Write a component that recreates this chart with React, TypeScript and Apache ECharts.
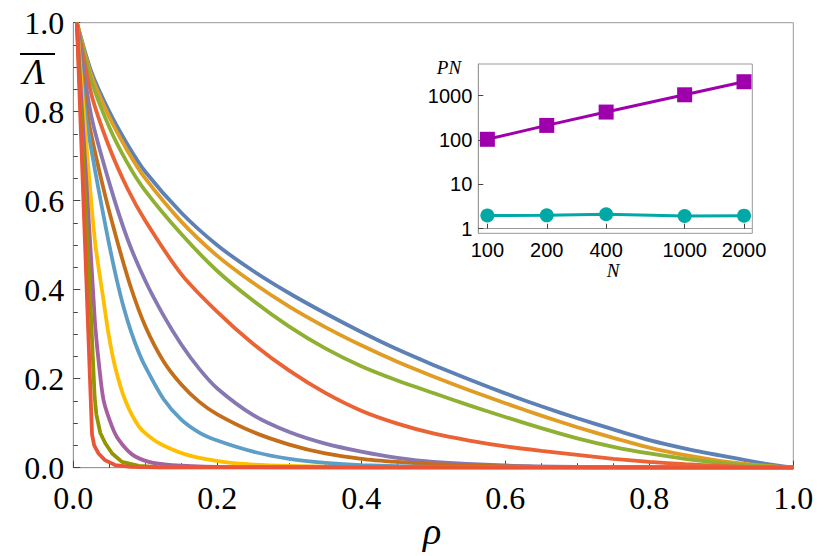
import React, { useEffect, useRef } from 'react';
import * as echarts from 'echarts';

// Main plot: rho grid used by the four broad curves
const rhoGrid = [0.005, 0.025, 0.05, 0.075, 0.1, 0.15, 0.2, 0.25, 0.3, 0.35, 0.4, 0.45, 0.5, 0.55, 0.6, 0.65, 0.7, 0.75, 0.8, 0.85, 0.9, 0.95, 1.0];
const blueVals = [1.0, 0.89, 0.8, 0.727, 0.665, 0.573, 0.5, 0.442, 0.392, 0.347, 0.305, 0.266, 0.231, 0.198, 0.167, 0.138, 0.111, 0.086, 0.062, 0.043, 0.027, 0.012, 0];
const orangeVals = [1.0, 0.882, 0.788, 0.713, 0.65, 0.553, 0.476, 0.415, 0.362, 0.316, 0.275, 0.238, 0.205, 0.174, 0.145, 0.117, 0.091, 0.067, 0.045, 0.028, 0.015, 0.006, 0];
const greenVals = [1.0, 0.87, 0.765, 0.685, 0.622, 0.525, 0.442, 0.375, 0.317, 0.268, 0.228, 0.196, 0.168, 0.14, 0.114, 0.089, 0.066, 0.047, 0.032, 0.02, 0.011, 0.004, 0];
const redOrangeVals = [1.0, 0.84, 0.72, 0.628, 0.555, 0.435, 0.35, 0.278, 0.218, 0.168, 0.128, 0.099, 0.077, 0.061, 0.048, 0.038, 0.029, 0.02, 0.013, 0.008, 0.004, 0.001, 0];

// Steeper curves: [rho, value] pairs
const purplePts = [[0.005, 1], [0.025, 0.79], [0.05, 0.64], [0.075, 0.515], [0.1, 0.42], [0.125, 0.343], [0.15, 0.277], [0.175, 0.222], [0.2, 0.178], [0.25, 0.118], [0.3, 0.08], [0.35, 0.054], [0.4, 0.036], [0.45, 0.022], [0.5, 0.013], [0.6, 0.005], [0.7, 0.002], [0.8, 0.001], [1, 0]];
const brownPts = [[0.005, 1], [0.02, 0.79], [0.04, 0.64], [0.06, 0.515], [0.08, 0.405], [0.1, 0.318], [0.125, 0.24], [0.15, 0.187], [0.175, 0.148], [0.2, 0.12], [0.25, 0.08], [0.3, 0.052], [0.35, 0.032], [0.4, 0.02], [0.45, 0.013], [0.5, 0.008], [0.6, 0.003], [0.7, 0.001], [1, 0]];
const lightBluePts = [[0.005, 1], [0.0176, 0.79], [0.03, 0.67], [0.04, 0.583], [0.05, 0.5], [0.06, 0.425], [0.07, 0.36], [0.08, 0.307], [0.09, 0.263], [0.1, 0.227], [0.125, 0.155], [0.15, 0.108], [0.175, 0.079], [0.2, 0.061], [0.25, 0.036], [0.3, 0.02], [0.35, 0.011], [0.4, 0.006], [0.5, 0.002], [0.6, 0.001], [1, 0]];
const yellowPts = [[0.005, 1], [0.015, 0.79], [0.03, 0.51], [0.042, 0.376], [0.049, 0.3], [0.058, 0.227], [0.072, 0.152], [0.091, 0.093], [0.1116, 0.063], [0.132, 0.045], [0.162, 0.027], [0.208, 0.013], [0.25, 0.007], [0.3, 0.004], [0.4, 0.001], [1, 0]];
const magentaPts = [[0.005, 1], [0.0125, 0.79], [0.0232, 0.51], [0.0282, 0.376], [0.0306, 0.315], [0.036, 0.227], [0.042, 0.152], [0.0537, 0.093], [0.063, 0.063], [0.0815, 0.03], [0.105, 0.013], [0.137, 0.006], [0.2, 0.002], [0.3, 0.001], [1, 0]];
const olivePts = [[0.005, 1], [0.0107, 0.79], [0.0195, 0.51], [0.0236, 0.376], [0.0296, 0.16], [0.032, 0.12], [0.0375, 0.078], [0.0444, 0.055], [0.054, 0.032], [0.0676, 0.013], [0.091, 0.004], [0.12, 0.001], [1, 0]];
const redPts = [[0.005, 1], [0.026, 0.075], [0.029, 0.05], [0.035, 0.032], [0.044, 0.017], [0.058, 0.006], [0.08, 0.002], [0.12, 0], [1, 0]];

const curveColors = ['#5E81B5', '#E19C24', '#8FB032', '#EB6235', '#8778B3', '#C56E1A', '#5D9EC7', '#FFBF00', '#A5609D', '#929600', '#E95536'];

// Inset
const insetN = [100, 200, 400, 1000, 2000];
const pnSquares = [104, 214, 428, 1050, 2070];
const pnCircles = [1.98, 2.0, 2.12, 1.93, 1.97];
const insetYTicks = [1, 10, 100, 1000];

const zip = (xs: number[], ys: number[]) => xs.map((x, i) => [x, ys[i]]);

export default function App() {
  const ref = useRef<HTMLDivElement>(null);
  useEffect(() => {
    if (!ref.current) return;
    const chart = echarts.init(ref.current, null, { renderer: 'svg' });
    const curves = [
      zip(rhoGrid, blueVals),
      zip(rhoGrid, orangeVals),
      zip(rhoGrid, greenVals),
      zip(rhoGrid, redOrangeVals),
      purplePts,
      brownPts,
      lightBluePts,
      yellowPts,
      magentaPts,
      olivePts,
      redPts,
    ];
    const serif = "'Liberation Serif', 'Times New Roman', serif";
    const sans = "'Liberation Sans', Arial, sans-serif";
    const mainLabel = {
      color: '#000',
      fontFamily: serif,
      fontSize: 32,
      fontWeight: 'normal',
      formatter: (v: number) => v.toFixed(1),
    };
    const mainAxisCommon = {
      type: 'value',
      min: 0,
      max: 1,
      interval: 0.2,
      axisLine: { show: true, lineStyle: { color: '#999', width: 1 } },
      axisTick: { show: true, inside: true, length: 7, lineStyle: { color: '#444', width: 1 } },
      minorTick: { show: true, splitNumber: 4, length: 4.5, lineStyle: { color: '#444', width: 1 } },
      splitLine: { show: false },
    };
    const insetLog = (v: number) => Math.log10(v);
    const insetLabel = {
      color: '#000',
      fontFamily: sans,
      fontSize: 20,
      formatter: (v: number) => String(Math.round(Math.pow(10, v))),
    };
    const option: any = {
      animation: false,
      backgroundColor: '#fff',
      textStyle: { fontFamily: serif },
      grid: [
        { left: 73.3, top: 22.7, width: 720, height: 445, show: true, borderColor: '#999', borderWidth: 1, backgroundColor: 'transparent' },
        { left: 478.3, top: 64, width: 274, height: 169.3, show: true, borderColor: '#999', borderWidth: 1, backgroundColor: '#fff' },
      ],
      xAxis: [
        { ...mainAxisCommon, gridIndex: 0, axisLabel: { ...mainLabel, margin: 14 } },
        {
          type: 'value',
          gridIndex: 1,
          min: 1.954,
          max: 3.343,
          axisLine: { show: true, lineStyle: { color: '#999' } },
          axisTick: { show: true, inside: true, length: 5, customValues: insetN.map(insetLog), lineStyle: { color: '#444' } },
          splitLine: { show: false },
          axisLabel: { ...insetLabel, customValues: insetN.map(insetLog), margin: 7 },
        },
      ],
      yAxis: [
        { ...mainAxisCommon, gridIndex: 0, axisLabel: { ...mainLabel, margin: 9 } },
        {
          type: 'value',
          gridIndex: 1,
          min: -0.104,
          max: 3.716,
          axisLine: { show: true, lineStyle: { color: '#999' } },
          axisTick: { show: true, inside: true, length: 5, customValues: insetYTicks.map(insetLog), lineStyle: { color: '#444' } },
          splitLine: { show: false },
          axisLabel: { ...insetLabel, customValues: insetYTicks.map(insetLog), margin: 6 },
        },
      ],
      series: [
        ...curves.map((pts, i) => ({
          type: 'line',
          xAxisIndex: 0,
          yAxisIndex: 0,
          data: pts,
          showSymbol: false,
          symbol: 'none',
          smooth: i >= 9 ? false : 0.25,
          lineStyle: { color: curveColors[i], width: 3.8 },
          z: 2 + i * 0.01,
        })),
        {
          type: 'line',
          xAxisIndex: 1,
          yAxisIndex: 1,
          data: insetN.map((n, i) => [insetLog(n), insetLog(pnSquares[i])]),
          symbol: 'rect',
          symbolSize: 15,
          itemStyle: { color: '#9E00AB' },
          lineStyle: { color: '#9E00AB', width: 3 },
          z: 5,
        },
        {
          type: 'line',
          xAxisIndex: 1,
          yAxisIndex: 1,
          data: insetN.map((n, i) => [insetLog(n), insetLog(pnCircles[i])]),
          symbol: 'circle',
          symbolSize: 14,
          itemStyle: { color: '#00A9A5' },
          lineStyle: { color: '#00A9A5', width: 3 },
          z: 5,
        },
      ],
      graphic: [
        { type: 'text', x: 34, y: 72, z: 10, style: { text: 'Λ', fontFamily: serif, fontStyle: 'italic', fontSize: 36, fill: '#000', align: 'center', verticalAlign: 'middle' } },
        { type: 'line', z: 10, shape: { x1: 20, y1: 54, x2: 55, y2: 54 }, style: { stroke: '#000', lineWidth: 2 } },
        { type: 'text', x: 432, y: 531, z: 10, style: { text: 'ρ', fontFamily: serif, fontStyle: 'italic', fontSize: 38, fill: '#000', align: 'center', verticalAlign: 'middle' } },
        { type: 'text', x: 449, y: 67, z: 10, style: { text: 'PN', fontFamily: serif, fontStyle: 'italic', fontSize: 19, fill: '#000', align: 'center', verticalAlign: 'middle' } },
        { type: 'text', x: 613, y: 270, z: 10, style: { text: 'N', fontFamily: serif, fontStyle: 'italic', fontSize: 19, fill: '#000', align: 'center', verticalAlign: 'middle' } },
      ],
    };
    chart.setOption(option);
    return () => chart.dispose();
  }, []);
  return <div ref={ref} style={{ position: 'absolute', left: 0, top: 0, width: 830, height: 556 }} />;
}
